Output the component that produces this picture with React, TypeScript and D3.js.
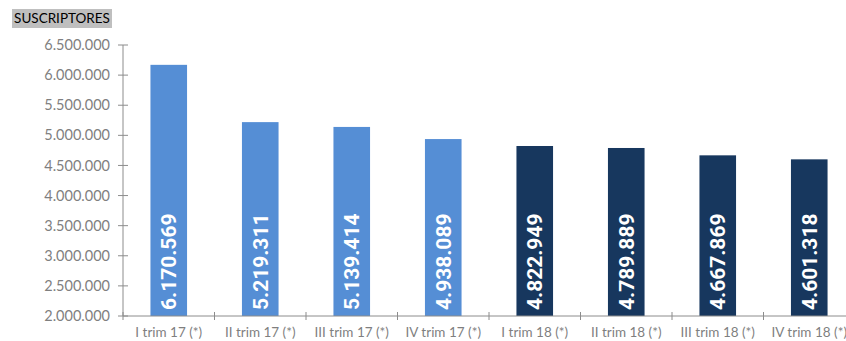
import React from "react";
import * as d3 from "d3";

const categories = ["I trim 17 (*)", "II trim 17 (*)", "III trim 17 (*)", "IV trim 17 (*)", "I trim 18 (*)", "II trim 18 (*)", "III trim 18 (*)", "IV trim 18 (*)"];
const values = [6170569, 5219311, 5139414, 4938089, 4822949, 4789889, 4667869, 4601318];
const barColors = ["#558ED5", "#558ED5", "#558ED5", "#558ED5", "#17375E", "#17375E", "#17375E", "#17375E"];
const yTicks = [2000000, 2500000, 3000000, 3500000, 4000000, 4500000, 5000000, 5500000, 6000000, 6500000];

const fmt = (v: number) => d3.format(",")(v).replace(/,/g, ".");

export default function App() {
  const W = 846, H = 341;
  const x0 = 123, x1 = 855, yTop = 45, yBot = 316;
  const x = d3.scaleBand<string>().domain(categories).range([x0, x1]).paddingInner(0.6).paddingOuter(0.3);
  const xStep = (x1 - x0) / categories.length;
  const y = d3.scaleLinear().domain([2000000, 6500000]).range([yBot, yTop]);
  const axisColor = "#8c8c8c";
  const tickFont = "'Lato', 'Open Sans', sans-serif";
  return (
    <svg width={W} height={H} style={{ position: "absolute", left: 0, top: 0, background: "#fff" }}>
      <rect x={12} y={9} width={100} height={19} fill="#bfbfbf" />
      <text x={62} y={23} textAnchor="middle" fontFamily={tickFont} fontSize={13.5} fill="#000">SUSCRIPTORES</text>
      {values.map((v, i) => {
        const bx = x(categories[i])!;
        const bw = x.bandwidth();
        return (
          <g key={i}>
            <rect x={bx} y={y(v)} width={bw} height={yBot - y(v)} fill={barColors[i]} />
            <text transform={`translate(${bx + bw / 2},${yBot - 6}) rotate(-90)`} dy="0.36em" fontFamily="Roboto, Arial, sans-serif" fontWeight="bold" fontSize={21} fill="#fff">{fmt(v)}</text>
          </g>
        );
      })}
      <line x1={x0} x2={x0} y1={yTop} y2={yBot} stroke={axisColor} strokeWidth={1} />
      <line x1={x0} x2={x1} y1={yBot} y2={yBot} stroke={axisColor} strokeWidth={1} />
      {yTicks.map((t) => (
        <g key={t}>
          <line x1={x0 - 5} x2={x0 + 5} y1={y(t)} y2={y(t)} stroke={axisColor} />
          <text x={110} y={y(t)} dy="0.35em" textAnchor="end" fontFamily={tickFont} fontSize={14.5} fill="#7f7f7f">{fmt(t)}</text>
        </g>
      ))}
      {d3.range(categories.length + 1).map((i) => (
        <line key={i} x1={x0 + i * xStep} x2={x0 + i * xStep} y1={yBot - 4} y2={yBot + 4} stroke={axisColor} />
      ))}
      {categories.map((c) => (
        <text key={c} x={x(c)! + x.bandwidth() / 2} y={337} textAnchor="middle" fontFamily={tickFont} fontSize={13.5} fill="#7f7f7f">{c}</text>
      ))}
    </svg>
  );
}
